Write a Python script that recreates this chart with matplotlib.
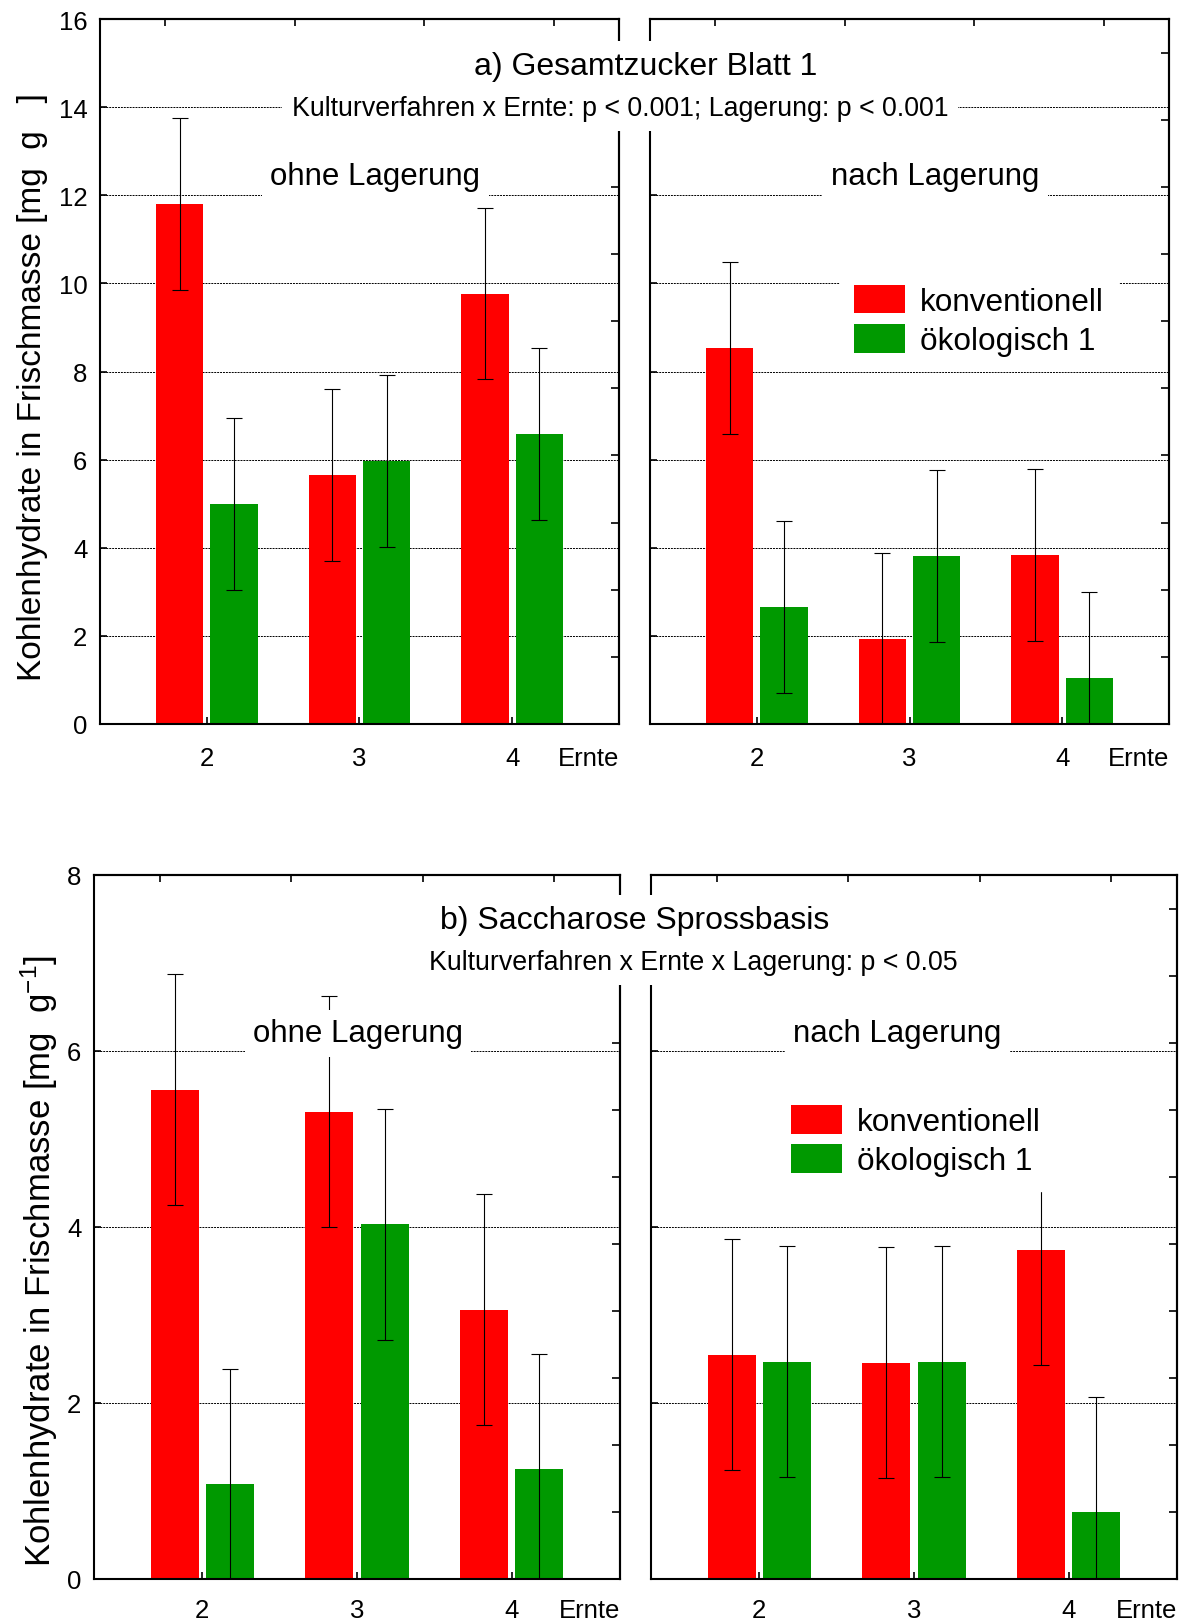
import matplotlib.pyplot as plt
import numpy as np

plt.rcParams['font.family'] = ['Liberation Sans', 'DejaVu Sans']
plt.rcParams['mathtext.default'] = 'regular'

ernte = [2, 3, 4]
sorten = ['konventionell', 'ökologisch 1']

# a) Gesamtzucker Blatt 1  [mg/g FM]
a_ohne_konv = [11.80, 5.65, 9.77]
a_ohne_oeko = [5.00, 5.97, 6.58]
a_nach_konv = [8.53, 1.93, 3.83]
a_nach_oeko = [2.65, 3.81, 1.05]
a_fehler = [1.95, 1.95, 1.95]

# b) Saccharose Sprossbasis  [mg/g FM]
b_ohne_konv = [5.56, 5.31, 3.06]
b_ohne_oeko = [1.08, 4.03, 1.25]
b_nach_konv = [2.55, 2.46, 3.74]
b_nach_oeko = [2.47, 2.47, 0.76]
b_fehler = [1.31, 1.31, 1.31]

ROT = '#ff0000'
GRUEN = '#009900'
W, H = 1184, 1624
BAR_W = 0.31
SHIFT = 0.178


def fx(px):
    return px / W


def fy(py):
    return 1 - py / H


def panel(ax, konv, oeko, err, ymax, links, xpad):
    pos = np.array(ernte, dtype=float)
    ax.bar(pos - SHIFT, konv, width=BAR_W, color=ROT, zorder=2, label=sorten[0])
    ax.bar(pos + SHIFT, oeko, width=BAR_W, color=GRUEN, zorder=2, label=sorten[1])
    for xs, vals in ((pos - SHIFT, konv), (pos + SHIFT, oeko)):
        ax.errorbar(xs, vals, yerr=err, fmt='none', ecolor='black',
                    elinewidth=0.8, capsize=6, capthick=0.8, zorder=3)

    ax.set_xlim(1.3, 4.7)
    ax.set_ylim(0, ymax)
    ax.set_xticks(ernte)
    ax.set_yticks(np.arange(0, ymax + 1, 2))
    ax.yaxis.grid(True, linestyle=(0, (2, 1)), linewidth=0.7, color='black')
    ax.set_axisbelow(True)

    ax.tick_params(direction='in', length=5, width=1.2, labelsize=18.5,
                   top=False, right=False)
    ax.tick_params(axis='x', pad=xpad)
    ax.tick_params(axis='y', pad=9, labelleft=links)
    for s in ax.spines.values():
        s.set_linewidth(1.5)

    # extra tick rows on top and right spine
    oben = ax.secondary_xaxis('top', functions=(lambda x: (x - 1.3) / 0.85,
                                                lambda t: t * 0.85 + 1.3))
    oben.set_xticks([0.5, 1.5, 2.5, 3.5])
    oben.set_xticklabels([])
    oben.tick_params(direction='in', length=5, width=1.2)
    oben.spines['top'].set_linewidth(1.5)

    rechts = ax.secondary_yaxis('right', functions=(lambda y: y * 10.5 / ymax,
                                                    lambda t: t * ymax / 10.5))
    rechts.set_yticks(range(1, 11))
    rechts.set_yticklabels([])
    rechts.tick_params(direction='in', length=6, width=1.2)
    rechts.spines['right'].set_linewidth(1.5)

    ax.annotate('Ernte', xy=(1, 0), xycoords='axes fraction',
                xytext=(0, -xpad), textcoords='offset points',
                ha='right', va='top', fontsize=18.5)


def lagerung(ax, text, x, y):
    ax.text(x, y, text, transform=ax.transAxes, ha='center', va='baseline',
            fontsize=22.5, zorder=6,
            bbox=dict(facecolor='white', edgecolor='none', pad=6))


def legende(ax, x, y):
    ax.legend(loc='upper left', bbox_to_anchor=(x, y), frameon=True,
              fancybox=False, edgecolor='white', facecolor='white',
              framealpha=1, fontsize=22.7, handlelength=1.62, handleheight=1.02,
              handletextpad=0.48, labelspacing=0.22, borderpad=0.45,
              borderaxespad=0)


fig = plt.figure(figsize=(W / 100, H / 100), dpi=100)

ax_a1 = fig.add_axes([fx(100), fy(725), 519 / W, 705 / H])
ax_a2 = fig.add_axes([fx(650), fy(725), 519 / W, 705 / H])
ax_b1 = fig.add_axes([fx(94), fy(1580), 526 / W, 704 / H])
ax_b2 = fig.add_axes([fx(651), fy(1580), 526 / W, 704 / H])

panel(ax_a1, a_ohne_konv, a_ohne_oeko, a_fehler, 16, True, 16)
panel(ax_a2, a_nach_konv, a_nach_oeko, a_fehler, 16, False, 16)
panel(ax_b1, b_ohne_konv, b_ohne_oeko, b_fehler, 8, True, 14)
panel(ax_b2, b_nach_konv, b_nach_oeko, b_fehler, 8, False, 14)

lagerung(ax_a1, 'ohne Lagerung', 0.530, 0.766)
lagerung(ax_a2, 'nach Lagerung', 0.549, 0.766)
lagerung(ax_b1, 'ohne Lagerung', 0.502, 0.764)
lagerung(ax_b2, 'nach Lagerung', 0.468, 0.764)

legende(ax_a2, 0.366, 0.643)
legende(ax_b2, 0.239, 0.693)

box = dict(facecolor='white', edgecolor='none', pad=7)
fig.text(fx(646), fy(75), 'a) Gesamtzucker Blatt 1', ha='center',
         va='baseline', fontsize=23, bbox=box)
fig.text(fx(620), fy(116),
         'Kulturverfahren x Ernte: p < 0.001; Lagerung: p < 0.001',
         ha='center', va='baseline', fontsize=19.3, bbox=box)
fig.text(fx(635), fy(929), 'b) Saccharose Sprossbasis', ha='center',
         va='baseline', fontsize=23, bbox=box)
fig.text(fx(693), fy(970), 'Kulturverfahren x Ernte x Lagerung: p < 0.05',
         ha='center', va='baseline', fontsize=19.3, bbox=box)

fig.text(fx(33), fy(387), 'Kohlenhydrate in Frischmasse [mg  g   ]',
         rotation=90, ha='center', va='center', fontsize=24)
fig.text(fx(39), fy(1261), 'Kohlenhydrate in Frischmasse [mg  g$^{-1}$]',
         rotation=90, ha='center', va='center', fontsize=25)

fig.savefig('out.png', dpi=100)
